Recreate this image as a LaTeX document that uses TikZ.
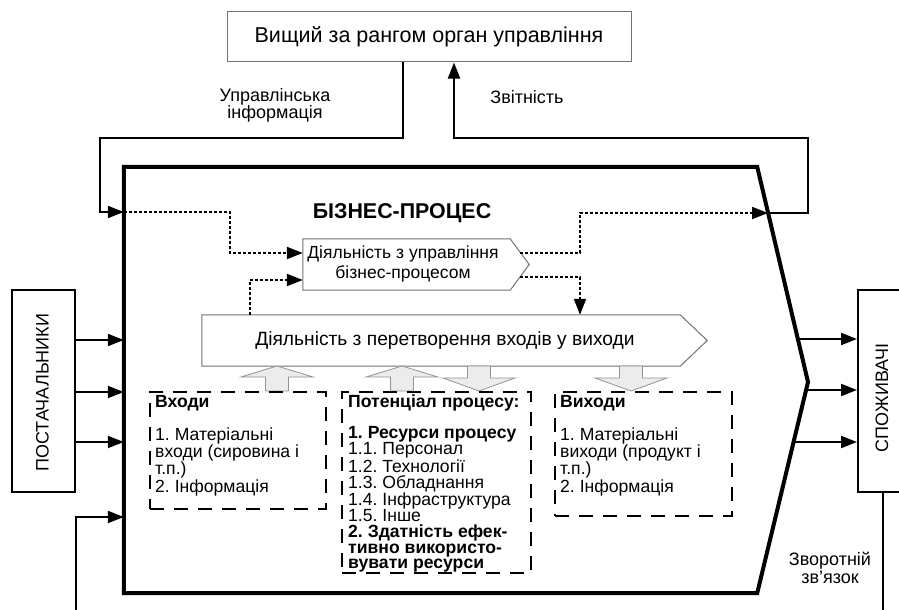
\documentclass[tikz,border=0pt]{standalone}
\usepackage{fontspec}
\setmainfont{Liberation Sans}
\usetikzlibrary{arrows.meta,calc}
\frenchspacing
\newcommand\blkup[1]{\draw[blk] (#1,366) -- (#1+36,377) -- (#1+11.5,377) -- (#1+11.5,391) -- (#1-11.5,391) -- (#1-11.5,377) -- (#1-36,377) -- cycle;}
\newcommand\blkdown[1]{\draw[blk] (#1-11.5,366) -- (#1+11.5,366) -- (#1+11.5,378) -- (#1+36,378) -- (#1,391) -- (#1-36,378) -- (#1-11.5,378) -- cycle;}
\begin{document}
\begin{tikzpicture}[x=1pt,y=-1pt,
  conn/.style={line width=2pt},
  arr/.style={line width=2pt,-{Triangle[length=16pt,width=12pt]}},
  dots/.style={line width=2pt,dash pattern=on 3pt off 2pt},
  darr/.style={dots,-{Triangle[length=16pt,width=12pt]}},
  chev/.style={draw=gray!90!black,line width=1pt,fill=white},
  dbox/.style={draw,line width=2.5pt,dash pattern=on 14pt off 10pt,inner sep=0pt},
  blk/.style={draw=gray!85,fill=gray!15,line width=0.8pt},
  txt/.style={font=\fontsize{18}{17}\selectfont,inner sep=0pt},
  boxtxt/.style={font=\fontsize{17.6}{15.9}\selectfont,inner sep=0pt,anchor=north west,align=left},
  sidebox/.style={draw,line width=2pt,inner sep=0pt,minimum height=202pt}
]
\useasboundingbox (0,0) rectangle (899,610);

% top box
\node[draw=gray!90!black,line width=1pt,minimum width=404pt,minimum height=50pt,
      font=\fontsize{21.5}{24}\selectfont] (top) at (429,37) {Вищий за рангом орган управління};
\node[txt,align=center] (lblmgmt) at (275,105) {Управлінська\\інформація};
\node[txt] (lblrep) at (527,97) {Звітність};

% main body
\node[minimum width=633pt,minimum height=426pt,inner sep=0pt] (body) at (440.5,380) {};
\coordinate (btip) at (808,382);
\draw[line width=4pt,line join=miter] (body.north west) -- (body.north east) -- (btip) -- (body.south east) -- (body.south west) -- cycle;
\node[font=\bfseries\fontsize{21.4}{24}\selectfont,inner sep=0pt] (title) at (402,213) {БІЗНЕС-ПРОЦЕС};

% side boxes
\node[sidebox,minimum width=63pt] (sup) at (43.5,391) {};
\node[txt,rotate=90] (suptxt) at (42.5,392.5) {ПОСТАЧАЛЬНИКИ};
\node[sidebox,minimum width=47pt] (cons) at (881.5,391) {};
\node[txt,rotate=90] (constxt) at (882,398) {СПОЖИВАЧІ};

% management node
\node[minimum width=207pt,minimum height=51pt,inner sep=0pt] (mgmt) at (406.5,264.5) {};
\draw[chev] (mgmt.north west) -- (mgmt.north east) -- ($(mgmt.east)+(19,0)$) -- (mgmt.south east) -- (mgmt.south west) -- cycle;
\node[font=\fontsize{17.5}{20}\selectfont,inner sep=0pt,align=center] (mgmttxt) at (403,263.5) {Діяльність з управління\\бізнес-процесом};

% transformation node
\node[minimum width=478pt,minimum height=51pt,inner sep=0pt] (trans) at (441,340.5) {};
\draw[chev] (trans.north west) -- (trans.north east) -- ($(trans.east)+(27,0)$) -- (trans.south east) -- (trans.south west) -- cycle;
\node[font=\fontsize{19.2}{22}\selectfont,inner sep=0pt] (transtxt) at (445,341) {Діяльність з перетворення входів у виходи};

% block arrows
\blkup{277}
\blkup{402}
\blkdown{479}
\blkdown{631}

% dashed boxes
\node[dbox,minimum width=176pt,minimum height=117pt] (inbox) at (238,450.5) {};
\node[dbox,minimum width=189pt,minimum height=181pt] (potbox) at (436.5,482.5) {};
\node[dbox,minimum width=177pt,minimum height=124pt] (outbox) at (643.5,454) {};

\node[boxtxt] (intxt) at (155,395) {\textbf{Входи}\\[15.5pt]1. Матеріальні\\входи (сировина і\\т.п.)\\2. Інформація};
\node[boxtxt] (pottxt) at (348,394.5) {\textbf{Потенціал процесу:}\\[15.5pt]\textbf{1. Ресурси процесу}\\1.1. Персонал\\1.2. Технології\\1.3. Обладнання\\1.4. Інфраструктура\\1.5. Інше\\\textbf{2. Здатність ефек-}\\\textbf{тивно використо-}\\\textbf{вувати ресурси}};
\node[boxtxt] (outtxt) at (560,395) {\textbf{Виходи}\\[15.5pt]1. Матеріальні\\виходи (продукт і\\т.п.)\\2. Інформація};

\node[txt,align=center,font=\fontsize{18}{18}\selectfont] (lblfb) at (830,568) {Зворотній\\зв’язок};

% connectors: management info
\draw[arr] (403,0 |- top.south) -- (403,138) -- (100,138) -- (100,212) -- (body.west |- 0,212);
\draw[darr] (body.west |- 0,212) -- (230,212) -- (230,253) -- (mgmt.west |- 0,253);
\draw[darr] (250,0 |- trans.north) -- (250,280) -- (mgmt.west |- 0,280);

% reporting
\coordinate (mo1) at (520,253);
\coordinate (mo2) at (520,277);
\coordinate (bo) at (768,213);
\draw[darr] (mo1) -- (580,253) -- (580,213) -- (bo);
\draw[darr] (mo2) -- (580,277) -- (580,0 |- trans.north);
\draw[arr] (bo) -- (808,213) -- (808,138) -- (454,138) -- (454,0 |- top.south);

% suppliers
\draw[arr] (sup.east |- 0,340) -- (body.west |- 0,340);
\draw[arr] (sup.east |- 0,392) -- (body.west |- 0,392);
\draw[arr] (sup.east |- 0,442) -- (body.west |- 0,442);
\draw[arr] (76,610) -- (76,517) -- (body.west |- 0,517);

% consumers
\coordinate (c1) at (798,339);
\coordinate (c2) at (807,390);
\coordinate (c3) at (795,442);
\draw[arr] (c1) -- (cons.west |- c1);
\draw[arr] (c2) -- (cons.west |- c2);
\draw[arr] (c3) -- (cons.west |- c3);
\draw[conn] (883,0 |- cons.south) -- (883,610);
\end{tikzpicture}
\end{document}
